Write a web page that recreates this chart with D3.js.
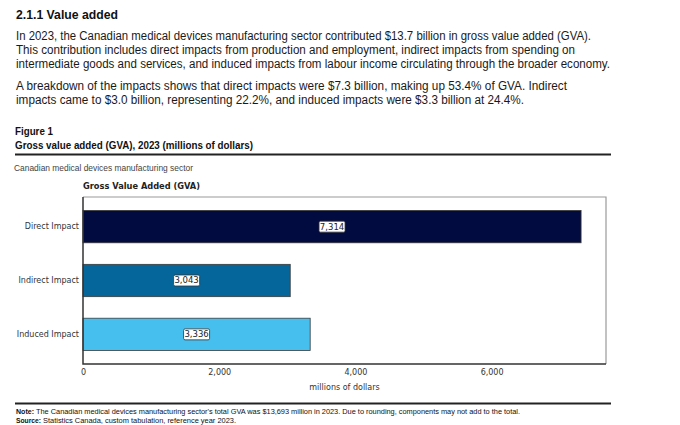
<!DOCTYPE html>
<html>
<head>
<meta charset="utf-8">
<script src="https://cdn.jsdelivr.net/npm/d3@7"></script>
<style>
  html, body { margin: 0; padding: 0; background: #fff; }
  svg { display: block; }
</style>
</head>
<body>
<svg id="chart" width="680" height="425"></svg>
<script>
// ---- data ----
const categories = ["Direct Impact", "Indirect Impact", "Induced Impact"];
const values = [7314, 3043, 3336];
const barColors = ["#020b40", "#05669b", "#46bfee"];
const xTicks = [0, 2000, 4000, 6000];

const heading = "2.1.1 Value added";
const para1 = [
  "In 2023, the Canadian medical devices manufacturing sector contributed $13.7 billion in gross value added (GVA).",
  "This contribution includes direct impacts from production and employment, indirect impacts from spending on",
  "intermediate goods and services, and induced impacts from labour income circulating through the broader economy."
];
const para2 = [
  "A breakdown of the impacts shows that direct impacts were $7.3 billion, making up 53.4% of GVA. Indirect",
  "impacts came to $3.0 billion, representing 22.2%, and induced impacts were $3.3 billion at 24.4%."
];
const figLabel = "Figure 1";
const figTitle = "Gross value added (GVA), 2023 (millions of dollars)";
const subtitle = "Canadian medical devices manufacturing sector";
const chartTitle = "Gross Value Added (GVA)";
const xAxisTitle = "millions of dollars";
const noteText = "The Canadian medical devices manufacturing sector's total GVA was $13,693 million in 2023. Due to rounding, components may not add to the total.";
const sourceText = "Statistics Canada, custom tabulation, reference year 2023.";

// ---- drawing ----
(function () {
const svg = d3.select("#chart");
const sans = "'Liberation Sans', Arial, Helvetica, sans-serif";
const narrow = "'Liberation Sans Narrow', 'Liberation Sans', Arial, sans-serif";
const dejavu = "'DejaVu Sans', Verdana, sans-serif";

function txt(x, y, s, opts) {
  const t = svg.append("text")
    .attr("x", x).attr("y", y)
    .attr("font-family", opts.family || sans)
    .attr("font-size", opts.size || 12)
    .attr("font-weight", opts.weight || "normal")
    .attr("fill", opts.fill || "#111")
    .text(s);
  if (opts.len) t.attr("textLength", opts.len).attr("lengthAdjust", "spacingAndGlyphs");
  if (opts.anchor) t.attr("text-anchor", opts.anchor);
  return t;
}

// heading + paragraphs
txt(16, 18.5, heading, {size: 13.5, weight: "bold", len: 102, fill: "#111"});
const p1Len = [575, 559, 594];
para1.forEach((s, i) => txt(16, 39.5 + i * 14.3, s, {size: 12, len: p1Len[i], fill: "#1a1a1a"}));
const p2Len = [551, 508];
para2.forEach((s, i) => txt(16, 90 + i * 14.3, s, {size: 12, len: p2Len[i], fill: "#1a1a1a"}));

// figure header
txt(15, 134.5, figLabel, {size: 11.5, weight: "bold", family: narrow, len: 38, fill: "#111"});
txt(15, 148.5, figTitle, {size: 11.5, weight: "bold", family: narrow, len: 238, fill: "#111"});
svg.append("line").attr("x1", 15).attr("x2", 611).attr("y1", 154.5).attr("y2", 154.5)
  .attr("stroke", "#222").attr("stroke-width", 2);
txt(14, 170.5, subtitle, {size: 9, family: narrow, len: 179, fill: "#444"});

// chart
const pL = 83, pR = 606, pT = 197, pB = 364;
const x = d3.scaleLinear().domain([0, 7680]).range([pL, pR]);
const y = d3.scaleBand().domain(categories).range([pT, pB]).paddingInner(0.4).paddingOuter(0.25);

txt(pL, 189, chartTitle, {size: 8, weight: "bold", family: dejavu, len: 117, fill: "#222"});

// frame top/right
svg.append("path")
  .attr("d", `M${pL},${pT}H${pR}V${pB}`)
  .attr("fill", "none").attr("stroke", "#9a9a9a").attr("stroke-width", 1.2);

// bars
svg.append("g").selectAll("rect").data(categories).join("rect")
  .attr("x", x(0))
  .attr("y", d => y(d))
  .attr("width", (d, i) => x(values[i]) - x(0))
  .attr("height", y.bandwidth())
  .attr("fill", (d, i) => barColors[i])
  .attr("stroke", "#3a3a3a").attr("stroke-width", 0.8);

// value labels
const lab = svg.append("g").selectAll("g").data(categories).join("g")
  .attr("transform", (d, i) => `translate(${(x(0) + x(values[i])) / 2},${y(d) + y.bandwidth() / 2})`);
lab.append("rect")
  .attr("x", -13).attr("y", -5.5).attr("width", 26).attr("height", 11)
  .attr("rx", 1.5).attr("fill", "#fff").attr("stroke", "#333").attr("stroke-width", 0.8);
lab.append("text")
  .attr("text-anchor", "middle").attr("dy", "0.35em")
  .attr("font-family", dejavu).attr("font-size", 8.5).attr("fill", "#222")
  .text((d, i) => d3.format(",")(values[i]));

// axes
const xAxis = svg.append("g").attr("transform", `translate(0,${pB})`)
  .call(d3.axisBottom(x).tickValues(xTicks).tickSize(0).tickPadding(5).tickFormat(d3.format(",")));
xAxis.select(".domain").remove();
xAxis.selectAll("text").attr("font-family", dejavu).attr("font-size", 8).attr("fill", "#333");

const yAxis = svg.append("g").attr("transform", `translate(${pL},0)`)
  .call(d3.axisLeft(y).tickSize(0).tickPadding(4));
yAxis.select(".domain").remove();
yAxis.selectAll("text").attr("font-family", dejavu).attr("font-size", 8).attr("fill", "#333");

svg.append("path")
  .attr("d", `M${pL},${pT}V${pB}H${pR}`)
  .attr("fill", "none").attr("stroke", "#333").attr("stroke-width", 1.5);

txt((pL + pR) / 2, 390, xAxisTitle, {size: 8, family: dejavu, anchor: "middle", fill: "#333"});

// footer
svg.append("line").attr("x1", 15).attr("x2", 611).attr("y1", 403.5).attr("y2", 403.5)
  .attr("stroke", "#222").attr("stroke-width", 2);
txt(16, 413.5, "Note:", {size: 8, weight: "bold", family: narrow, len: 18, fill: "#111"});
txt(36, 413.5, noteText, {size: 8, family: narrow, len: 484, fill: "#111"});
txt(16, 423, "Source:", {size: 8, weight: "bold", family: narrow, len: 25, fill: "#111"});
txt(43, 423, sourceText, {size: 8, family: narrow, len: 193, fill: "#111"});
})();
</script>
</body>
</html>
